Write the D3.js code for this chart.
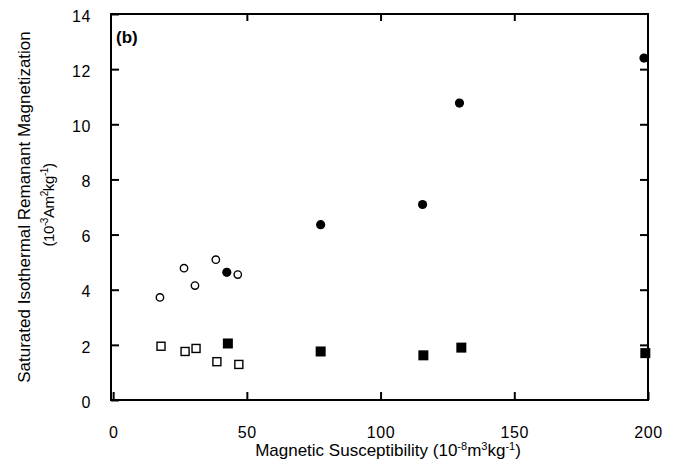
<!DOCTYPE html>
<html>
<head>
<meta charset="utf-8">
<script src="https://cdn.jsdelivr.net/npm/d3@7"></script>
<style>
  body { margin: 0; background: #fff; }
  svg { font-family: "Liberation Sans", Arial, sans-serif; }
</style>
</head>
<body>
<div id="chart"></div>
<script>
// open circles
var openCircleX = [17.5, 26.5, 30.6, 38.4, 46.6];
var openCircleY = [3.72, 4.78, 4.15, 5.09, 4.55];
// filled circles
var fillCircleX = [42.5, 77.6, 115.7, 129.5, 198.5];
var fillCircleY = [4.63, 6.36, 7.09, 10.77, 12.4];
// open squares
var openSquareX = [17.9, 26.9, 31.0, 38.8, 47.0];
var openSquareY = [1.95, 1.76, 1.87, 1.39, 1.29];
// filled squares
var fillSquareX = [42.9, 77.6, 116.0, 130.2, 199.0];
var fillSquareY = [2.05, 1.76, 1.62, 1.9, 1.7];

var xTicks = [0, 50, 100, 150, 200];
var yTicks = [0, 2, 4, 6, 8, 10, 12, 14];

var svgWidth = 676, svgHeight = 468;
var margin = {top: 14, right: 28, bottom: 68, left: 111};
var width = svgWidth - margin.left - margin.right;
var height = svgHeight - margin.top - margin.bottom;

var svg = d3.select('#chart').append('svg')
    .attr('width', svgWidth).attr('height', svgHeight);

var g = svg.append('g')
    .attr('transform', 'translate(' + margin.left + ',' + margin.top + ')');

var x = d3.scaleLinear().domain([-0.8, 200]).range([0, width]);
var y = d3.scaleLinear().domain([0, 14]).range([height, 0]);

function zip(xs, ys) { return xs.map(function(v, i) { return {x: v, y: ys[i]}; }); }

// frame
g.append('rect')
    .attr('width', width).attr('height', height)
    .attr('fill', 'none').attr('stroke', '#000').attr('stroke-width', 2);

// axes (inward ticks)
var xAxis = g.append('g').attr('transform', 'translate(0,' + height + ')')
    .call(d3.axisBottom(x).tickValues(xTicks).tickSize(-8).tickPadding(30));
var xAxisTop = g.append('g')
    .call(d3.axisTop(x).tickValues(xTicks.slice(1, 4)).tickSize(-7).tickFormat(''));
var yAxis = g.append('g')
    .call(d3.axisLeft(y).tickValues(yTicks).tickSize(-8).tickPadding(22));
var yAxisRight = g.append('g').attr('transform', 'translate(' + width + ',0)')
    .call(d3.axisRight(y).tickValues(yTicks.slice(1, 7)).tickSize(-8).tickFormat(''));

[xAxis, xAxisTop, yAxis, yAxisRight].forEach(function(a) {
    a.select('.domain').remove();
    a.selectAll('.tick line').attr('stroke', '#000').attr('stroke-width', 2);
    a.selectAll('.tick text').attr('font-size', 16).attr('fill', '#000')
        .attr('letter-spacing', 0.6)
        .attr('font-family', '"Liberation Sans", Arial, sans-serif');
});
xAxis.selectAll('.tick text').attr('dy', '0.5em');
yAxis.selectAll('.tick text').attr('x', -20).attr('dy', '0.45em');

// markers
var r = 3.7;
g.selectAll('.ocircle').data(zip(openCircleX, openCircleY)).enter().append('circle')
    .attr('cx', function(d) { return x(d.x); }).attr('cy', function(d) { return y(d.y); })
    .attr('r', r).attr('fill', '#fff').attr('stroke', '#000').attr('stroke-width', 1.4);
g.selectAll('.fcircle').data(zip(fillCircleX, fillCircleY)).enter().append('circle')
    .attr('cx', function(d) { return x(d.x); }).attr('cy', function(d) { return y(d.y); })
    .attr('r', 4.6).attr('fill', '#000');
var s = 8;
g.selectAll('.osquare').data(zip(openSquareX, openSquareY)).enter().append('rect')
    .attr('x', function(d) { return x(d.x) - s / 2; }).attr('y', function(d) { return y(d.y) - s / 2; })
    .attr('width', s).attr('height', s)
    .attr('fill', '#fff').attr('stroke', '#000').attr('stroke-width', 1.4);
g.selectAll('.fsquare').data(zip(fillSquareX, fillSquareY)).enter().append('rect')
    .attr('x', function(d) { return x(d.x) - 5; }).attr('y', function(d) { return y(d.y) - 5; })
    .attr('width', 10).attr('height', 10).attr('fill', '#000');

// panel label
g.append('text').attr('x', 5).attr('y', 29)
    .attr('font-size', 17).attr('font-weight', 'bold').text('(b)');

// x label
var xl = svg.append('text')
    .attr('x', 388).attr('y', 456).attr('text-anchor', 'middle').attr('font-size', 17);
xl.append('tspan').text('Magnetic Susceptibility (10');
xl.append('tspan').attr('font-size', 11).attr('dy', -6).text('-8');
xl.append('tspan').attr('dy', 6).text('m');
xl.append('tspan').attr('font-size', 11).attr('dy', -6).text('3');
xl.append('tspan').attr('dy', 6).text('kg');
xl.append('tspan').attr('font-size', 11).attr('dy', -6).text('-1');
xl.append('tspan').attr('dy', 6).text(')');

// y label
var cy = margin.top + height / 2;
svg.append('text')
    .attr('transform', 'translate(30,' + cy + ') rotate(-90)')
    .attr('text-anchor', 'middle').attr('font-size', 17)
    .text('Saturated Isothermal Remanant Magnetization');
var yl = svg.append('text')
    .attr('transform', 'translate(54,' + (cy - 2) + ') rotate(-90)')
    .attr('text-anchor', 'middle').attr('font-size', 15).attr('letter-spacing', -0.4);
yl.append('tspan').text('(10');
yl.append('tspan').attr('font-size', 10).attr('dy', -6).text('-3');
yl.append('tspan').attr('dy', 6).text('Am');
yl.append('tspan').attr('font-size', 10).attr('dy', -6).text('2');
yl.append('tspan').attr('dy', 6).text('kg');
yl.append('tspan').attr('font-size', 10).attr('dy', -6).text('-1');
yl.append('tspan').attr('dy', 6).text(')');
</script>
</body>
</html>
